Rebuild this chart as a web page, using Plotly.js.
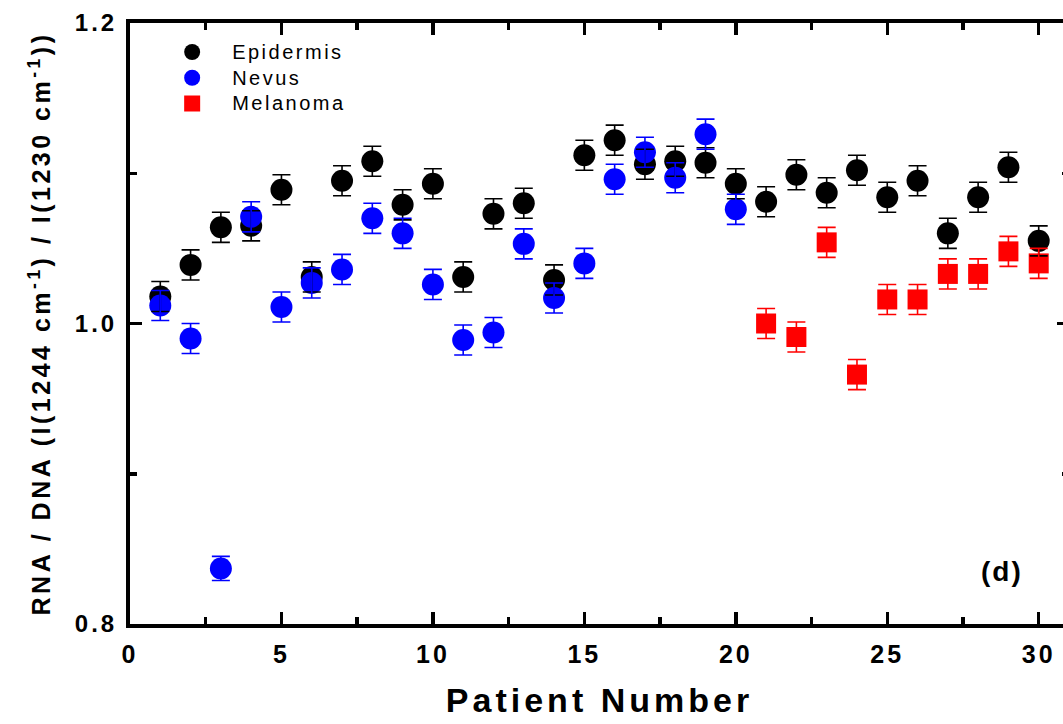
<!DOCTYPE html>
<html>
<head>
<meta charset="utf-8">
<script src="https://cdn.plot.ly/plotly-3.0.1.min.js"></script>
<style>
html, body { margin: 0; padding: 0; overflow: hidden; background: #fff; }
#chart { width: 1070px; height: 724px; }
.legendtext { letter-spacing: 2.5px; font-size: 20px !important; }
.xtitle { letter-spacing: 4px; }
.ytitle { letter-spacing: 3.5px; }
.xtick text, .ytick text { letter-spacing: 3px; }
.annotation-text { letter-spacing: 2px; }
</style>
</head>
<body>
<div id="chart"></div>
<script>
// Patient numbers
const epidermisPatients = [1,2,3,4,5,6,7,8,9,10,11,12,13,14,15,16,17,18,19,20,21,22,23,24,25,26,27,28,29,30];
const nevusPatients = [1,2,3,4,5,6,7,8,9,10,11,12,13,14,15,16,17,18,19,20];
const melanomaPatients = [21,22,23,24,25,26,27,28,29,30];

// RNA / DNA ratio values
const epidermisValues = [1.018,1.039,1.064,1.065,1.089,1.031,1.095,1.108,1.079,1.093,
                         1.031,1.073,1.080,1.029,1.112,1.122,1.106,1.108,1.107,1.093,
                         1.081,1.099,1.087,1.102,1.084,1.095,1.060,1.084,1.104,1.055];
const nevusValues = [1.012,0.990,0.837,1.071,1.011,1.027,1.036,1.070,1.060,1.026,
                     0.989,0.994,1.053,1.017,1.040,1.096,1.114,1.097,1.126,1.076];
const melanomaValues = [1.000,0.991,1.054,0.966,1.016,1.016,1.033,1.033,1.048,1.040];

// Error bar half-widths
const epidermisErrors = [0.010,0.010,0.010,0.010,0.010,0.010,0.010,0.010,0.010,0.010,
                         0.010,0.010,0.010,0.010,0.010,0.010,0.010,0.010,0.010,0.010,
                         0.010,0.010,0.010,0.010,0.010,0.010,0.010,0.010,0.010,0.010];
const nevusErrors = [0.010,0.010,0.008,0.010,0.010,0.010,0.010,0.010,0.010,0.010,
                     0.010,0.010,0.010,0.010,0.010,0.010,0.010,0.010,0.010,0.010];
const melanomaErrors = [0.010,0.010,0.010,0.010,0.010,0.010,0.010,0.010,0.010,0.010];

const seriesNames = ['Epidermis', 'Nevus', 'Melanoma'];
const yTickVals = [0.8, 1.0, 1.2];
const yTickText = ['0.8', '1.0', '1.2'];
const xTickVals = [0, 5, 10, 15, 20, 25, 30];
const xTickText = ['0', '5', '10', '15', '20', '25', '30'];

const FONT = 'Liberation Sans, Arial, Helvetica, sans-serif';

function markerTrace(name, x, y, color, symbol, size) {
  return {
    type: 'scatter', mode: 'markers', name: name, x: x, y: y,
    marker: { color: color, symbol: symbol, size: size, line: { width: 0 } },
    hoverinfo: 'x+y+name'
  };
}
function errTrace(x, y, err, color) {
  return {
    type: 'scatter', mode: 'markers', x: x, y: y, showlegend: false,
    marker: { color: color, size: 1, opacity: 0 },
    hoverinfo: 'skip',
    error_y: { type: 'data', array: err, visible: true, color: color, thickness: 1.6, width: 9 }
  };
}

const data = [
  markerTrace(seriesNames[0], epidermisPatients, epidermisValues, '#000000', 'circle', 22),
  markerTrace(seriesNames[1], nevusPatients, nevusValues, '#0000ff', 'circle', 22),
  markerTrace(seriesNames[2], melanomaPatients, melanomaValues, '#ff0000', 'square', 20),
  errTrace(epidermisPatients, epidermisValues, epidermisErrors, '#000000'),
  errTrace(nevusPatients, nevusValues, nevusErrors, '#0000ff'),
  errTrace(melanomaPatients, melanomaValues, melanomaErrors, '#ff0000')
];

const layout = {
  width: 1070, height: 724,
  margin: { l: 130, r: 1, t: 23, b: 100, pad: 0 },
  paper_bgcolor: '#ffffff', plot_bgcolor: '#ffffff',
  showlegend: true,
  legend: {
    x: 0.0236, y: 0.9815, xanchor: 'left', yanchor: 'top',
    bgcolor: 'rgba(0,0,0,0)', borderwidth: 0,
    font: { family: FONT, size: 17.5, color: '#000' },
    itemwidth: 70, tracegroupgap: 0
  },
  xaxis: {
    range: [0, 31], showgrid: false, zeroline: false,
    showline: true, linecolor: '#000', linewidth: 4, mirror: 'ticks',
    ticks: 'inside', ticklen: 12, tickwidth: 3.5, tickcolor: '#000',
    tickmode: 'array', tickvals: xTickVals, ticktext: xTickText,
    minor: { ticks: 'inside', dtick: 2.5, tick0: 0, ticklen: 7, tickwidth: 3.5, tickcolor: '#000', showgrid: false },
    tickfont: { family: FONT, size: 25, color: '#000', weight: 'bold' },
    ticklabelstandoff: 5,
    title: { text: 'Patient Number', font: { family: FONT, size: 34, color: '#000', weight: 'bold' }, standoff: 22 }
  },
  yaxis: {
    range: [0.8, 1.2], showgrid: false, zeroline: false,
    showline: true, linecolor: '#000', linewidth: 4, mirror: 'ticks',
    ticks: 'inside', ticklen: 12, tickwidth: 3.5, tickcolor: '#000',
    tickmode: 'array', tickvals: yTickVals, ticktext: yTickText,
    minor: { ticks: 'inside', dtick: 0.1, tick0: 0.8, ticklen: 7, tickwidth: 3.5, tickcolor: '#000', showgrid: false },
    tickfont: { family: FONT, size: 24, color: '#000', weight: 'bold' },
    ticklabelstandoff: 4,
    title: { text: 'RNA / DNA (I(1244 cm<sup>-1</sup>) / I(1230 cm<sup>-1</sup>))', font: { family: FONT, size: 25, color: '#000', weight: 'bold' }, standoff: 18 }
  },
  annotations: [{
    text: '(d)', xref: 'x', yref: 'y', x: 28.8, y: 0.835,
    showarrow: false, font: { family: FONT, size: 28, color: '#000', weight: 'bold' }
  }]
};

Plotly.newPlot('chart', data, layout, { displayModeBar: false, staticPlot: true });
</script>
</body>
</html>
